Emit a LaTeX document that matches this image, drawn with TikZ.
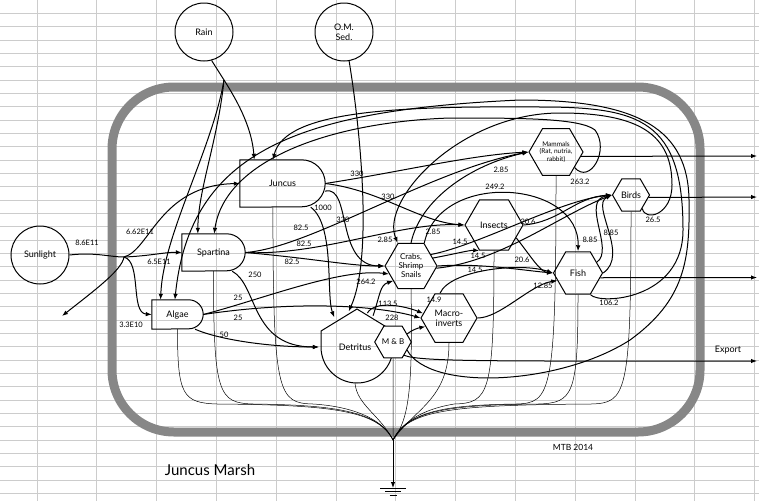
\documentclass[tikz,border=0pt]{standalone}
\usepackage{fontspec}
\setmainfont{Lato}
\usetikzlibrary{shapes.geometric,arrows.meta}
\tikzstyle{src}=[shape=circle, draw, line width=1pt, minimum size=58pt, inner sep=0, align=center, font=\fontsize{9}{10}\selectfont]
\tikzstyle{cons}=[shape=regular polygon, regular polygon sides=6, draw, line width=1pt, inner sep=0, align=center, font=\fontsize{9}{10}\selectfont]
\tikzstyle{prod}=[shape=rectangle, inner sep=0, font=\fontsize{9}{10}\selectfont]
\tikzstyle{tank}=[shape=circle, minimum size=72pt, inner sep=0, font=\fontsize{9}{10}\selectfont]
\tikzstyle{fl}=[line width=1pt, -{Latex[length=6pt,width=4.5pt]}]
\tikzstyle{ln}=[line width=1pt]
\tikzstyle{snk}=[line width=0.5pt]
\tikzstyle{lbl}=[inner sep=0, font=\fontsize{7.5}{8}\selectfont]
\tikzstyle{sheet}=[line width=0.7pt, color=black!20]
\newcommand{\prodshape}[2]{\draw[ln] (#1.south west) -- (#1.north west) -- ([xshift=-#2pt]#1.north east) arc[start angle=90, end angle=-90, radius=#2pt] -- cycle;}

\begin{document}
\begin{tikzpicture}[x=1pt, y=-1pt]
\useasboundingbox (0,0) rectangle (759,501);
\foreach \x in {37,96.8,...,760} \draw[sheet] (\x,0) -- (\x,501);
\foreach \y in {13.33,26.66,...,500} \draw[sheet] (0,\y) -- (759,\y);
\draw[line width=9pt, color=black!47, rounded corners=62pt] (112,87) rectangle (700,432);

\node at (204,32)[src](rain){Rain};
\node at (344,32)[src](om){O.M.\\Sed.};
\node at (40,255)[src](sun){Sunlight};
\node at (282.5,183.5)[prod, minimum width=85pt, minimum height=47pt](junc){Juncus};
\prodshape{junc}{23.5}
\node at (213.5,252.5)[prod, minimum width=63pt, minimum height=37pt](spar){Spartina};
\prodshape{spar}{18.5}
\node at (177.5,314.5)[prod, minimum width=51pt, minimum height=29pt](alg){Algae};
\prodshape{alg}{14.5}
\draw[ln] (321,331) -- (357,309) -- (393,331) -- (393,347) arc[start angle=0, end angle=-180, radius=36pt] -- cycle;
\node at (355,347)[tank](det){Detritus};
\node at (393,342)[cons, fill=white, minimum size=32pt, font=\fontsize{8}{9}\selectfont](mb){M \& B};
\node at (411,266)[cons, minimum size=52pt, font=\fontsize{8}{9}\selectfont](crab){Crabs,\\Shrimp\\Snails};
\node at (494,225)[cons, minimum size=58pt](ins){Insects};
\node at (449,318)[cons, minimum size=56pt](macro){Macro-\\inverts};
\node at (578,273)[cons, minimum size=49pt](fish){Fish};
\node at (556,152)[cons, minimum size=54pt, font=\fontsize{6.5}{7.5}\selectfont](mamm){Mammals\\(Rat, nutria,\\rabbit)};
\node at (631,195)[cons, minimum size=37pt](birds){Birds};

\coordinate (sj) at (124,257);
\coordinate (rj) at (224,80);
\coordinate (refl) at (62,316);
\coordinate (hs) at (393,440);
\coordinate (gnd) at (393,488);
\coordinate (mo) at (757,156);
\coordinate (bo) at (757,197);
\coordinate (fo) at (757,277.5);
\coordinate (ex) at (757,361);

\draw[ln] (sun.east) .. controls (95,252) and (110,257) .. (sj);
\draw[fl] (sj) .. controls (150,256) and (165,252) .. (spar.west);
\draw[fl] (sj) .. controls (150,250) and (160,185) .. (junc.west);
\draw[fl] (sj) .. controls (142,262) and (130,313) .. (alg.west);
\draw[fl] (sj) .. controls (122,270) and (95,290) .. (refl);

\draw[ln] (rain.-75) -- (rj);
\draw[fl] (rj) .. controls (240,105) and (252,130) .. (junc.140);
\draw[fl] (rj) .. controls (218,140) and (198,190) .. (spar.130);
\draw[fl] (rj) .. controls (212,150) and (163,235) .. (alg.139);
\draw[fl] (om.-80) .. controls (362,140) and (372,260) .. (det.100);

\draw[fl] (junc.east) .. controls (400,172) and (470,155) .. (mamm.west);
\draw[fl] (junc.east) .. controls (380,190) and (420,222) .. (ins.west);
\draw[fl] (junc.-10) .. controls (352,185) and (335,266) .. (crab.west);
\draw[fl] (junc.-40) .. controls (335,225) and (326,295) .. (det.125);
\draw[fl] (spar.east) .. controls (310,248) and (430,170) .. (mamm.west);
\draw[fl] (spar.east) .. controls (320,256) and (400,222) .. (ins.west);
\draw[fl] (spar.east) .. controls (310,258) and (350,266) .. (crab.west);
\draw[fl] (spar.-45) .. controls (258,285) and (250,347) .. (det.west);
\draw[fl] (alg.east) .. controls (260,300) and (340,268) .. (crab.200);
\draw[fl] (alg.east) .. controls (300,300) and (380,306) .. (macro.west);
\draw[fl] (alg.-40) .. controls (220,340) and (270,347) .. (det.west);

\draw[fl] (det.60) .. controls (380,295) and (380,285) .. (crab.220);
\draw[fl] (det.70) .. controls (375,300) and (405,306) .. (macro.170);
\draw[fl] (mb.30) .. controls (412,330) and (418,328) .. (macro.200);
\draw[fl] (macro.110) .. controls (450,270) and (520,262) .. (fish.west);
\draw[fl] (macro.east) .. controls (500,318) and (530,285) .. (fish.200);

\draw[fl] (crab.north) .. controls (420,200) and (470,165) .. (mamm.west);
\draw[fl] (crab.60) .. controls (440,170) and (580,180) .. (fish.north);
\draw[fl] (crab.30) .. controls (480,245) and (560,200) .. (birds.west);
\draw[fl] (crab.20) .. controls (450,255) and (470,250) .. (ins.240);
\draw[fl] (crab.-5) .. controls (500,262) and (560,215) .. (birds.west);
\draw[fl] (crab.east) .. controls (480,263) and (520,270) .. (fish.west);
\draw[fl] (ins.east) .. controls (560,222) and (575,197) .. (birds.west);
\draw[fl] (ins.-30) .. controls (530,255) and (540,272) .. (fish.west);
\draw[fl] (fish.30) .. controls (615,250) and (580,200) .. (birds.west);
\draw[fl] (fish.east) .. controls (630,255) and (590,205) .. (birds.west);

\draw[fl] (mamm.-10) -- (mo);
\draw[fl] (birds.-8) -- (bo);
\draw[fl] (fish.-12) -- (fo);
\draw[fl] (mb.-50) .. controls (420,362) and (500,361) .. (ex);

\draw[fl] (fish.-60) .. controls (600,305) and (683,300) .. (683,230) .. controls (683,120) and (640,107) .. (540,107) .. controls (400,106) and (285,110) .. (junc.112);
\draw[fl] (mb.-30) .. controls (430,392) and (560,385) .. (630,340) .. controls (685,300) and (690,260) .. (689,200) .. controls (688,130) and (640,100) .. (520,100) .. controls (300,110) and (190,150) .. (alg.100);
\draw[fl] (mamm.-40) .. controls (590,185) and (610,150) .. (595,130) .. controls (580,118) and (520,118) .. (450,118) .. controls (330,122) and (225,160) .. (spar.88);
\draw[fl] (birds.-50) .. controls (645,222) and (672,215) .. (672,185) .. controls (672,135) and (640,113) .. (560,113) .. controls (460,113) and (380,200) .. (crab.120);

\foreach \n/\x in {alg.south/177.5, spar.south/213.5, junc.-112/273}
  \draw[snk] (\n) .. controls (\x,395) and (\x+5,403) .. (\x+40,404) .. controls (330,405) and (378,410) .. (hs);
\draw[snk] (det.south) .. controls (357,405) and (380,415) .. (hs);
\draw[snk] (mb.south) -- (hs);
\draw[snk] (crab.south) .. controls (413,395) and (408,420) .. (hs);
\draw[snk] (macro.south) .. controls (449,400) and (415,408) .. (hs);
\foreach \n/\x in {ins.south/494, mamm.south/556, fish.south/578, birds.south/631}
  \draw[snk] (\n) .. controls (\x,395) and (\x-5,403) .. (\x-40,404) .. controls (450,405) and (408,410) .. (hs);
\draw[fl] (hs) -- (gnd);
\draw[snk] ([xshift=-13pt]gnd) -- ([xshift=13pt]gnd) ([xshift=-8pt,yshift=-3.5pt]gnd) -- ([xshift=8pt,yshift=-3.5pt]gnd) ([xshift=-3.5pt,yshift=-7pt]gnd) -- ([xshift=3.5pt,yshift=-7pt]gnd);

\node at (87,243)[lbl](l1){8.6E11};
\node at (140,232)[lbl](l2){6.62E11};
\node at (159,262)[lbl](l3){6.5E11};
\node at (131,325)[lbl](l4){3.3E10};
\node at (357,174)[lbl](l5){330};
\node at (388,197)[lbl](l6){330};
\node at (343,220)[lbl](l7){330};
\node at (323,208)[lbl](l8){1000};
\node at (301,228)[lbl](l9){82.5};
\node at (304,244)[lbl](l10){82.5};
\node at (292,262)[lbl](l11){82.5};
\node at (255,275)[lbl](l12){250};
\node at (238,298)[lbl](l13){25};
\node at (238,318)[lbl](l14){25};
\node at (224,335)[lbl](l15){50};
\node at (366,282)[lbl](l16){264.2};
\node at (388,304)[lbl](l17){113.5};
\node at (392,318)[lbl](l18){228};
\node at (434,300)[lbl](l19){14.9};
\node at (501,170)[lbl](l20){2.85};
\node at (495,187)[lbl](l21){249.2};
\node at (433,232)[lbl](l22){2.85};
\node at (385,240)[lbl](l23){2.85};
\node at (460,242)[lbl](l24){14.5};
\node at (478,256)[lbl](l25){14.5};
\node at (475,270)[lbl](l26){14.5};
\node at (528,222)[lbl](l27){20.6};
\node at (522,260)[lbl](l28){20.6};
\node at (543,286)[lbl](l29){12.85};
\node at (611,233)[lbl](l30){8.85};
\node at (590,240)[lbl](l31){8.85};
\node at (580,182)[lbl](l32){263.2};
\node at (653,220)[lbl](l33){26.5};
\node at (609,303)[lbl](l34){106.2};
\node at (728,350)[lbl, font=\fontsize{9}{10}\selectfont](l35){Export};
\node at (573,447)[lbl, font=\fontsize{8.5}{9}\selectfont](l36){MTB 2014};
\node at (210,470)[lbl, font=\fontsize{15}{16}\selectfont](l37){Juncus Marsh};
\end{tikzpicture}
\end{document}
